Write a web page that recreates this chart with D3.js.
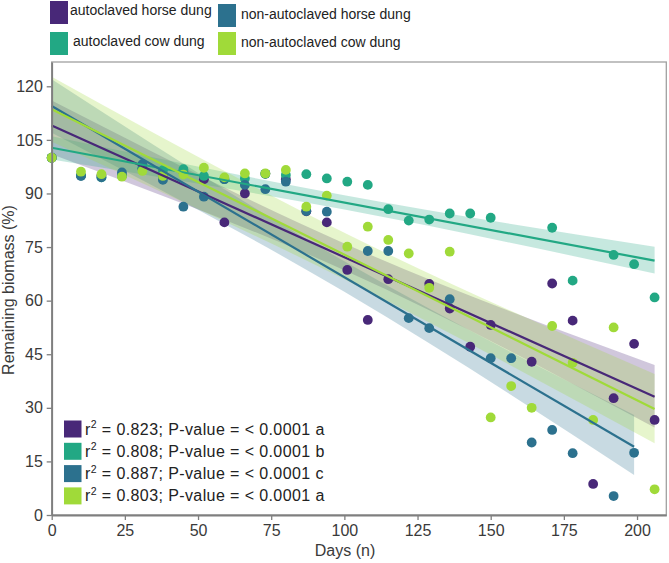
<!DOCTYPE html>
<html><head><meta charset="utf-8">
<script src="https://cdn.jsdelivr.net/npm/d3@7"></script>
<style>body{margin:0;background:#fff}svg{display:block}</style></head>
<body>
<svg id="c" width="669" height="563"></svg>
<script>
// ---------- data ----------
const days = [0,10,17,24,31,38,45,52,59,66,73,80,87,94,101,108,115,122,129,136,143,150,157,164,171,178,185,192,199,206];
const seriesNames = ["autoclaved horse dung","autoclaved cow dung","non-autoclaved horse dung","non-autoclaved cow dung"];
const seriesColors = ["#482878","#22a884","#2c718e","#a0da39"];
const horseAuto =   [100,95,95,95,97,95,96,94,81.9,90.0,95.5,94,85,81.9,68.6,54.6,66.0,null,64.7,57.8,47.1,53.2,null,42.9,64.8,54.4,8.7,32.7,47.9,26.6];
const cowAuto =     [100,95,94.5,95,97,96.5,96.8,94.9,94,94.2,95.5,95.2,95.4,94.2,93.3,92.4,85.6,82.4,82.7,84.4,84.4,83.2,null,null,80.4,65.6,null,72.8,70.2,60.9];
const horseNonAuto= [100,94.9,94.5,95.9,98.2,93.8,86.3,89.1,94,92.4,91.2,93.3,85.1,84.9,null,73.9,73.9,55.1,52.3,60.4,null,43.9,43.9,20.3,23.8,17.3,null,5.3,17.4,null];
const cowNonAuto =  [100,96.1,95.4,94.7,96.3,94.9,95.3,97.2,94.5,95.6,95.6,96.6,86.3,89.4,75.1,80.7,77.0,73.2,63.6,73.7,null,27.3,36.1,30.0,52.9,42.6,26.6,52.5,null,7.2];
const seriesValues = [horseAuto, cowAuto, horseNonAuto, cowNonAuto];

// fitted regression lines (value at day 0 and at last day)
const fitStart = [109.0, 102.8, 114.5, 113.6];
const fitEnd   = [33.1, 71.2, 19.1, 29.7];
const fitLastDay = [206, 206, 199, 206];
// confidence bands read at day 0, day 100, last day
const bandLow  = [[101,68.5,24.5],[99.5,85.5,67.6],[107,62.5,11.2],[104.5,66,20.1]];
const bandHigh = [[116,76,42.0],[106,89.5,75.1],[122,71,28.0],[122.7,79,39.5]];

const r2Values = ["0.823","0.808","0.887","0.803"];
const sigLetters = ["a","b","c","a"];
const xTicks = [0,25,50,75,100,125,150,175,200];
const yTicks = [0,15,30,45,60,75,90,105,120];

// ---------- chart ----------
const svg = d3.select("#c");
const x = d3.scaleLinear().domain([0,210]).range([51.7,666.3]);
const y = d3.scaleLinear().domain([0,126.8]).range([515,62]);
const font = "'Liberation Sans', Arial, sans-serif";

// frame
svg.append("rect").attr("x",x(0)).attr("y",y(126.8)).attr("width",x(210)-x(0)).attr("height",y(0)-y(126.8))
  .attr("fill","none").attr("stroke","#a0a0a0").attr("stroke-width",1.3);

// bands
seriesValues.forEach((vals,i)=>{
  const bd = [0,100,fitLastDay[i]];
  const pts = bd.map((d,k)=>({d, lo:bandLow[i][k], hi:bandHigh[i][k]}));
  svg.append("path").datum(pts)
    .attr("d", d3.area().x(p=>x(p.d)).y0(p=>y(p.lo)).y1(p=>y(p.hi)).curve(d3.curveMonotoneX))
    .attr("fill", seriesColors[i]).attr("fill-opacity",0.26);
});

// points
seriesValues.forEach((vals,i)=>{
  const pts = days.map((d,k)=>({d, v:vals[k]})).filter(p=>p.v!=null);
  svg.append("g").selectAll("circle").data(pts).join("circle")
    .attr("cx",p=>x(p.d)).attr("cy",p=>y(p.v)).attr("r",4.9)
    .attr("fill",seriesColors[i]);
});

// fit lines
seriesValues.forEach((vals,i)=>{
  svg.append("line")
    .attr("x1",x(0)).attr("y1",y(fitStart[i]))
    .attr("x2",x(fitLastDay[i])).attr("y2",y(fitEnd[i]))
    .attr("stroke",seriesColors[i]).attr("stroke-width",2.2);
});

// axes
const xAxis = svg.append("g").attr("transform",`translate(0,${y(0)})`)
  .call(d3.axisBottom(x).tickValues(xTicks).tickSize(5).tickSizeOuter(0));
const yAxis = svg.append("g").attr("transform",`translate(${x(0)},0)`)
  .call(d3.axisLeft(y).tickValues(yTicks).tickSize(5).tickSizeOuter(0));
[xAxis,yAxis].forEach(a=>{
  a.select(".domain").attr("stroke","#7f7f7f").attr("stroke-width",1.8);
  a.selectAll(".tick line").attr("stroke","#7f7f7f").attr("stroke-width",1.3);
  a.selectAll(".tick text").attr("font-family",font).attr("font-size",16).attr("fill","#3a3a3a");
});
xAxis.selectAll(".tick text").attr("dy","0.8em");
yAxis.selectAll(".tick text").attr("dx","-0.05em");

svg.append("text").attr("x",345).attr("y",556).attr("text-anchor","middle")
  .attr("font-family",font).attr("font-size",16).attr("fill","#3a3a3a").text("Days (n)");
svg.append("text").attr("transform","translate(14,290) rotate(-90)").attr("text-anchor","middle")
  .attr("font-family",font).attr("font-size",16).attr("fill","#3a3a3a").text("Remaining biomass (%)");

// top legend
const topLeg = [
  {i:0, sx:50, sy:1, tx:70, ty:15},
  {i:2, sx:218, sy:4, tx:241, ty:19},
  {i:1, sx:50, sy:32, tx:73, ty:46},
  {i:3, sx:218, sy:32, tx:241, ty:47}
];
topLeg.forEach(l=>{
  svg.append("rect").attr("x",l.sx).attr("y",l.sy).attr("width",18).attr("height",23).attr("fill",seriesColors[l.i]);
  svg.append("text").attr("x",l.tx).attr("y",l.ty).attr("font-family",font).attr("font-size",14)
    .attr("fill","#222").text(seriesNames[l.i]);
});

// stats legend
[0,1,2,3].forEach((i,k)=>{
  const cy = 429 + k*22.3;
  svg.append("rect").attr("x",64).attr("y",cy-8.5).attr("width",17.5).attr("height",17).attr("fill",seriesColors[i]);
  const t = svg.append("text").attr("x",85).attr("y",cy+5.5).attr("font-family",font).attr("font-size",16)
    .attr("letter-spacing",0.4).attr("fill","#222");
  t.append("tspan").text("r");
  t.append("tspan").attr("font-size",10.5).attr("dy",-6.5).text("2");
  t.append("tspan").attr("dy",6.5).text(` = ${r2Values[i]}; P-value = < 0.0001 ${sigLetters[i]}`);
});
</script>
</body></html>
